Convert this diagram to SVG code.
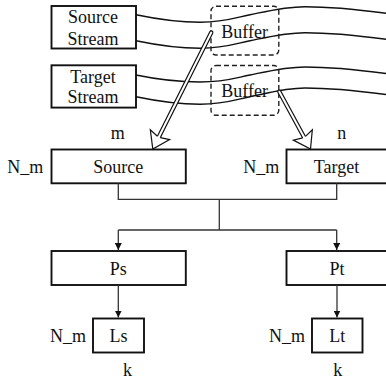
<svg xmlns="http://www.w3.org/2000/svg" width="386" height="379" viewBox="0 0 386 379">
<style>
text{font-family:"Liberation Serif","Times New Roman",serif;font-size:18px;fill:#111;text-anchor:middle}
.box{fill:#fff;stroke:#111;stroke-width:1.9}
.buf{fill:none;stroke:#222;stroke-width:1.4;stroke-dasharray:5 3}
.wave{fill:none;stroke:#111;stroke-width:1.4}
.conn{fill:none;stroke:#333;stroke-width:1.3}
.dblo{fill:none;stroke:#111;stroke-width:4.4;stroke-linecap:round}
.dbli{fill:none;stroke:#fff;stroke-width:2;stroke-linecap:round}
.head{fill:#fff;stroke:#111;stroke-width:1.2;stroke-linejoin:miter}
</style>
<defs>
<marker id="ah" viewBox="0 0 10 10" refX="10" refY="5" markerWidth="7" markerHeight="7" markerUnits="userSpaceOnUse" orient="auto">
<path d="M0,0 L10,5 L0,10 z" fill="#111"/>
</marker>
</defs>

<g id="waves">
<path class="wave" d="M136,14.7 C160,19.7 180,22.2 200,22.2 C225,22.2 235,17.7 250,14.7 C265,11.7 285,6.7 305,6.7 C335,6.7 360,9.7 390,13.7"/>
<path class="wave" d="M136,40.7 C160,45.7 180,48.2 200,48.2 C225,48.2 235,43.7 250,40.7 C265,37.7 285,32.7 305,32.7 C335,32.7 360,35.7 390,39.7"/>
<path class="wave" d="M136,75 C160,80 180,82 200,82 C225,82 235,78 250,75 C265,72 285,67 305,67 C335,67 360,70 390,74"/>
<path class="wave" d="M136,96.7 C160,101.7 180,104.2 200,104.2 C225,104.2 235,99.7 250,96.7 C265,93.7 285,88 305,88 C335,88 360,91 390,95"/>
</g>

<g id="source-stream">
<rect class="box" x="51.5" y="6" width="84.5" height="42.5"/>
<text x="93" y="23.3">Source</text>
<text x="93" y="45">Stream</text>
</g>
<g id="target-stream">
<rect class="box" x="51.5" y="65.3" width="84.5" height="42.3"/>
<text x="93" y="82.5">Target</text>
<text x="93" y="103.3">Stream</text>
</g>

<g id="buffer1">
<rect class="buf" x="211" y="6.2" width="67.8" height="48.8" rx="5"/>
<text x="244.7" y="37.7">Buffer</text>
</g>
<g id="buffer2">
<rect class="buf" x="211" y="65.5" width="67.8" height="49.8" rx="5"/>
<text x="244.7" y="97">Buffer</text>
</g>

<g id="source">
<rect class="box" x="51.5" y="149.5" width="134.3" height="33.8"/>
<text x="118.3" y="173.3">Source</text>
<text x="25.3" y="173.3">N_m</text>
<text x="117.7" y="139.3">m</text>
</g>
<g id="target">
<rect class="box" x="286.5" y="149.5" width="101" height="33.8"/>
<text x="336.5" y="173.3">Target</text>
<text x="261.3" y="173.3">N_m</text>
<text x="341.7" y="139.3">n</text>
</g>

<g id="ps">
<rect class="box" x="51.5" y="251" width="134.3" height="34"/>
<text x="118.3" y="275.3">Ps</text>
</g>
<g id="pt">
<rect class="box" x="286.5" y="251" width="101" height="34"/>
<text x="337" y="275.3">Pt</text>
</g>

<g id="ls">
<rect class="box" x="93" y="318.5" width="51" height="34"/>
<text x="118.6" y="342.3">Ls</text>
<text x="68" y="342.3">N_m</text>
<text x="127.5" y="375.7">k</text>
</g>
<g id="lt">
<rect class="box" x="312" y="318.5" width="50.5" height="34"/>
<text x="337.2" y="342.3">Lt</text>
<text x="287" y="342.3">N_m</text>
<text x="337.7" y="375.7">k</text>
</g>

<g id="connectors">
<path class="conn" d="M118.3,183.3 V199.3 H336.7 V183.3"/>
<path class="conn" d="M219.3,199.3 V230"/>
<path class="conn" d="M118.3,230 H336.7"/>
<path class="conn" d="M118.3,230 V250" marker-end="url(#ah)"/>
<path class="conn" d="M336.7,230 V250" marker-end="url(#ah)"/>
<path class="conn" d="M118.3,285 V317.5" marker-end="url(#ah)"/>
<path class="conn" d="M337,285 V317.5" marker-end="url(#ah)"/>
<g transform="translate(152.8,149) rotate(116.66)">
<path class="dblo" d="M-130.3,0 H-14"/>
<path class="dbli" d="M-130.3,0 H-12"/>
<path class="head" d="M-13.5,-1.6 L-16,-10.8 L0,0 L-16,10.8 L-13.5,1.6"/>
</g>
<g transform="translate(310.5,149) rotate(61.43)">
<path class="dblo" d="M-65.2,0 H-14"/>
<path class="dbli" d="M-65.2,0 H-12"/>
<path class="head" d="M-13.5,-1.6 L-16,-10.8 L0,0 L-16,10.8 L-13.5,1.6"/>
</g>
</g>
</svg>
